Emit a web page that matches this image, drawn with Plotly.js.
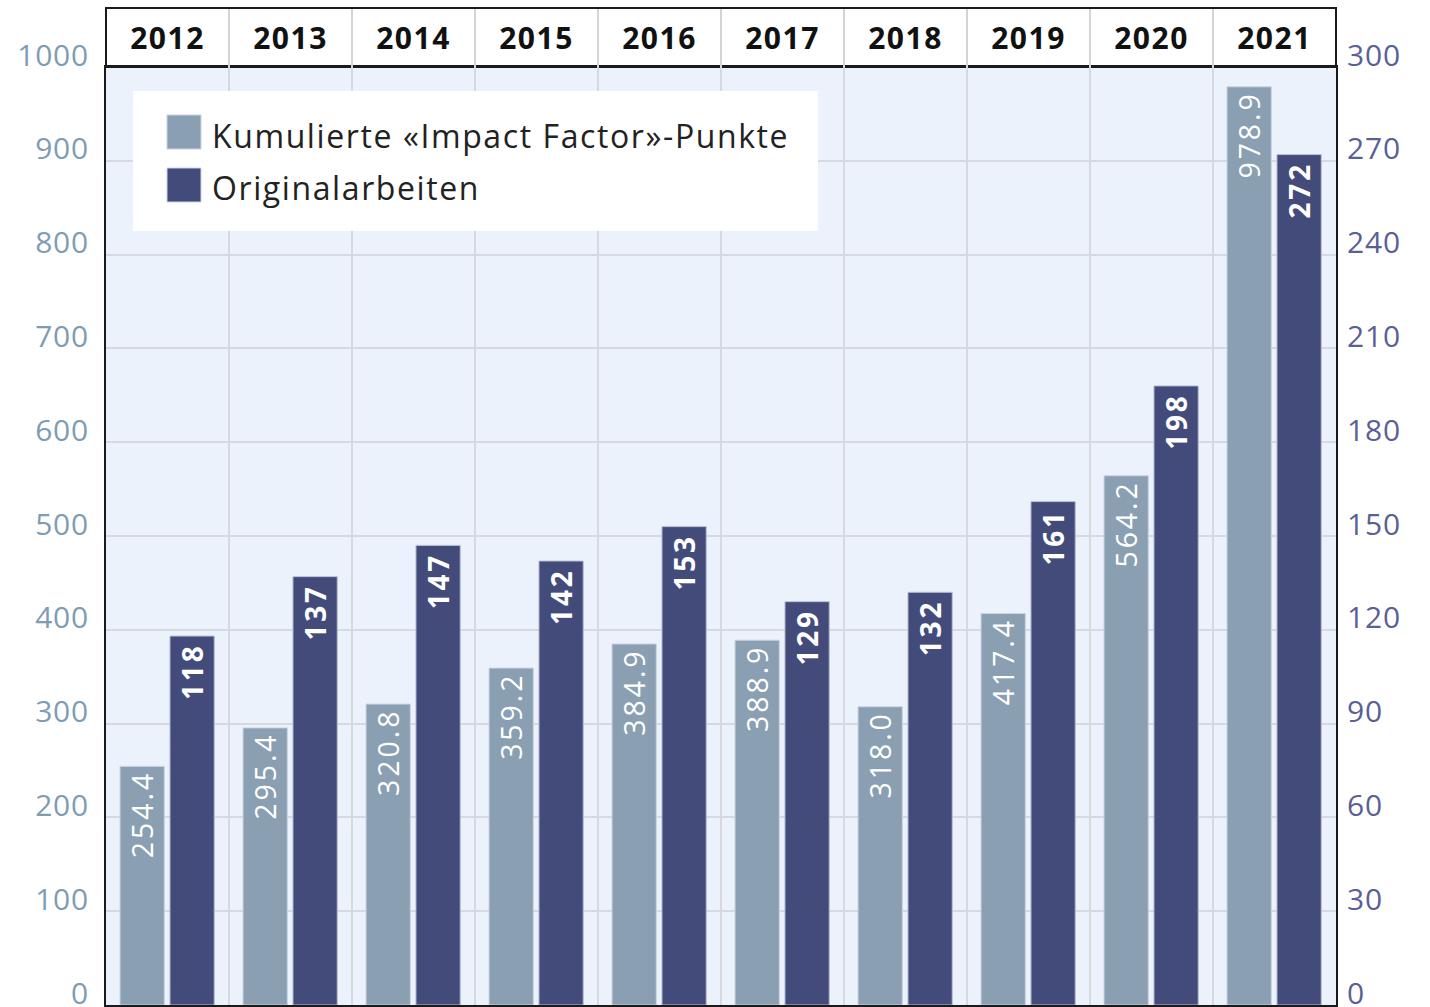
<!DOCTYPE html>
<html><head><meta charset="utf-8">
<script src="https://cdn.plot.ly/plotly-3.0.1.min.js"></script>
<style>
body{margin:0;background:#fff}#c{width:1430px;height:1007px}
.barlayer .trace:nth-child(1) text{letter-spacing:3px}
.barlayer .trace:nth-child(2) text{letter-spacing:1px}
.xtick text{letter-spacing:1.5px}
.ytick text,.y2tick text{letter-spacing:0.8px}
.annotation-text{letter-spacing:1.6px}
</style>
</head><body><div id="c"></div>
<script>
const years = ['2012','2013','2014','2015','2016','2017','2018','2019','2020','2021'];
const impactPoints = [254.4, 295.4, 320.8, 359.2, 384.9, 388.9, 318.0, 417.4, 564.2, 978.9];
const originalArbeiten = [118, 137, 147, 142, 153, 129, 132, 161, 198, 272];
const seriesNames = ['Kumulierte «Impact Factor»-Punkte', 'Originalarbeiten'];
const leftTicks = [0,100,200,300,400,500,600,700,800,900,1000];
const rightTicks = [0,30,60,90,120,150,180,210,240,270,300];

const cLight = '#8b9fb3', cDark = '#434b7b';
const F = '"Open Sans", "Noto Sans", sans-serif';

const traces = [
  {type:'bar', name:seriesNames[0], x:years, y:impactPoints, yaxis:'y',
   width:0.36, offset:-0.386,
   marker:{color:cLight, line:{color:'#c9d4e2', width:1}},
   texttemplate:'%{y:.1f}\u00a0', textposition:'inside', insidetextanchor:'end', textangle:-90,
   textfont:{family:F, size:29, color:'#ffffff'}, cliponaxis:false, showlegend:false, hoverinfo:'skip'},
  {type:'bar', name:seriesNames[1], x:years, y:originalArbeiten, yaxis:'y2',
   width:0.36, offset:0.02,
   marker:{color:cDark, line:{color:'#b9c0d6', width:1}},
   texttemplate:'%{y}\u00a0', textposition:'inside', insidetextanchor:'end', textangle:-90,
   textfont:{family:F, size:30, color:'#ffffff', weight:'bold'}, cliponaxis:false, showlegend:false, hoverinfo:'skip'}
];

const plotH = 1007 - 67 - 2;
const headTop = 1 + 59/plotH;
const shapes = [
  {type:'rect', xref:'paper', yref:'paper', x0:0, x1:1, y0:1, y1:headTop,
   fillcolor:'#ffffff', line:{color:'#1a1a1a', width:2}, layer:'below'}
];
for (let i = 0; i < years.length - 1; i++) {
  shapes.push({type:'line', xref:'x', yref:'paper', x0:i+0.5, x1:i+0.5, y0:1, y1:headTop-0.001,
    line:{color:'#d4d4d4', width:2}, layer:'above'});
}
// legend (drawn box)
const lgX0 = (133-106)/1230, lgX1 = (818-106)/1230;
const lgY1 = 1-(91-67)/plotH, lgY0 = 1-(231-67)/plotH;
shapes.push({type:'rect', xref:'paper', yref:'paper', x0:lgX0, x1:lgX1, y0:lgY0, y1:lgY1,
  fillcolor:'#ffffff', line:{width:0}, layer:'above'});
const sw = [[115,149,cLight],[168,202,cDark]];
const annotations = [];
sw.forEach((s,k)=>{
  shapes.push({type:'rect', xref:'paper', yref:'paper',
    x0:(167-106)/1230, x1:(201-106)/1230, y0:1-(s[1]-67)/plotH, y1:1-(s[0]-67)/plotH,
    fillcolor:s[2], line:{color:'#c9d4e2', width:1}, layer:'above'});
  annotations.push({xref:'paper', yref:'paper', x:(210-106)/1230, y:1-((s[0]+s[1])/2+3-67)/plotH,
    xanchor:'left', yanchor:'middle', showarrow:false, text:seriesNames[k],
    font:{family:F, size:32, color:'#222222'}});
});

const layout = {
  width:1430, height:1007,
  margin:{l:106, r:94, t:67, b:2},
  paper_bgcolor:'#ffffff', plot_bgcolor:'#ecf2fb',
  barmode:'overlay',
  showlegend:false,
  xaxis:{type:'category', side:'top', showgrid:true, tickson:'boundaries', gridcolor:'#d6d9de', gridwidth:2,
    ticks:'', showline:true, linecolor:'#1a1a1a', linewidth:2, mirror:true,
    tickfont:{family:F, size:30, color:'#111111', weight:'bold'}, ticklabelstandoff:4,
    range:[-0.5, years.length-0.5], fixedrange:true},
  yaxis:{range:[0,1000], tickvals:leftTicks, ticktext:leftTicks.map(String), showgrid:true, gridcolor:'#d6d9de', gridwidth:2,
    zeroline:false, showline:true, linecolor:'#1a1a1a', linewidth:2, mirror:true, ticks:'',
    tickfont:{family:F, size:30, color:'#7f9cb5'}, ticklabelstandoff:9, ticklabelshift:-12,
    ticklabeloverflow:'allow', fixedrange:true},
  yaxis2:{range:[0,300], tickvals:rightTicks, ticktext:rightTicks.map(String), overlaying:'y', side:'right', showgrid:false,
    zeroline:false, showline:false, ticks:'',
    tickfont:{family:F, size:30, color:'#5a5f95'}, ticklabelstandoff:10, ticklabelshift:-12,
    ticklabeloverflow:'allow', fixedrange:true},
  shapes:shapes, annotations:annotations,
  font:{family:F}
};
Plotly.newPlot('c', traces, layout, {displayModeBar:false, staticPlot:true});
</script></body></html>
